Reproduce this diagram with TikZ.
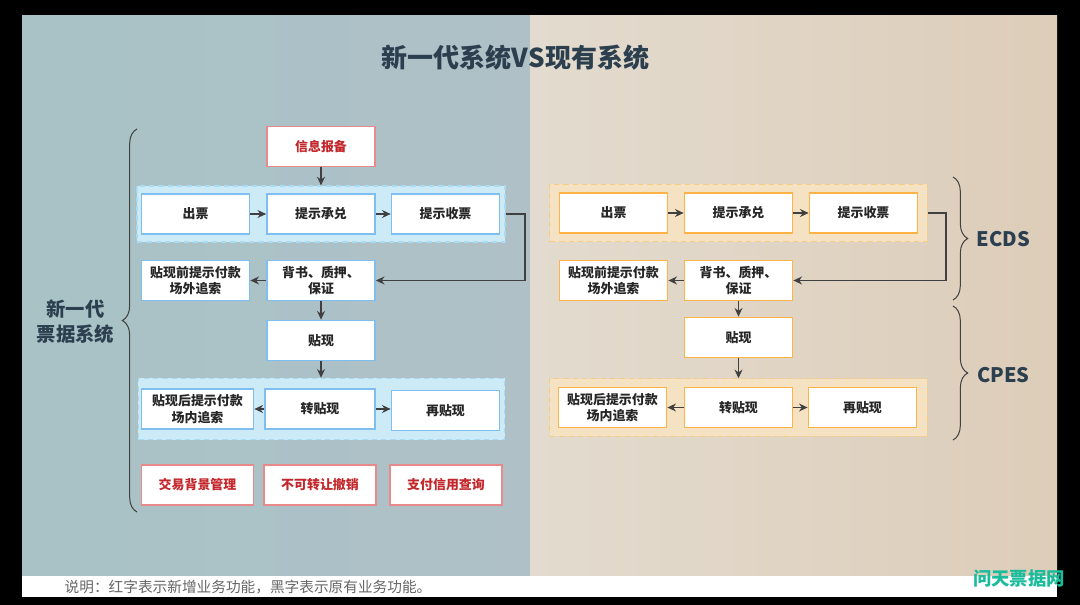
\documentclass[tikz,border=0pt]{standalone}
\usepackage{fontspec}
\setmainfont{Noto Sans CJK SC}
\usetikzlibrary{arrows.meta, decorations.pathreplacing}
\definecolor{titleink}{HTML}{2B3F4E}
\definecolor{boxink}{HTML}{262626}
\definecolor{newred}{HTML}{C3272B}
\definecolor{lineink}{HTML}{404040}
\definecolor{panelLa}{HTML}{A8C2C6}
\definecolor{panelLb}{HTML}{AFC1C7}
\definecolor{panelRa}{HTML}{E3DBCF}
\definecolor{panelRb}{HTML}{DDCDB9}
\definecolor{blueline}{HTML}{7FBEF0}
\definecolor{orangeline}{HTML}{FFB347}
\definecolor{redline}{HTML}{E88A8A}
\definecolor{bluefill}{HTML}{CDEBF7}
\definecolor{bluedash}{HTML}{A8DCF5}
\definecolor{orangefill}{HTML}{F5E2C3}
\definecolor{orangedash}{HTML}{F9CC85}
\definecolor{markink}{HTML}{1ABC9C}
\begin{document}
\begin{tikzpicture}[
  x=0.75pt, y=-0.75pt,
  bluebox/.style={rectangle, draw=blueline, fill=white, line width=1.3pt, align=center,
                  inner sep=0pt, minimum width=81pt, minimum height=30pt, text=boxink,
                  font=\fontsize{9.7pt}{12.4pt}\selectfont\bfseries},
  orangebox/.style={bluebox, draw=orangeline},
  redbox/.style={bluebox, draw=redline, text=newred, minimum width=84pt},
  solo/.style={text height=8pt, text depth=1pt},
  bluegroup/.style={rectangle, draw=bluedash, fill=bluefill, dash pattern=on 4pt off 3pt, line width=0.9pt,
                    inner sep=0pt},
  orangegroup/.style={bluegroup, draw=orangedash, fill=orangefill},
  head/.style={text=titleink, font=\fontsize{15pt}{19pt}\selectfont\bfseries, align=center},
  arr/.style={-{Stealth[length=6.5pt, width=6pt]}, lineink, line width=0.85pt},
  curly/.style={decorate, decoration={brace, amplitude=11pt}, lineink, line width=0.75pt}]

  \useasboundingbox[fill=black] (0, 0) rectangle (1080, 605);
  \shade[left color=panelLa, right color=panelLb] (22, 16) rectangle (530, 576);
  \shade[left color=panelRa, right color=panelRb] (530, 16) rectangle (1057, 576);
  \fill[white] (22, 576) rectangle (1057, 597);

  \node[text=titleink, font=\fontsize{19.5pt}{24pt}\selectfont\bfseries] at (515.5, 58) (title)
    {新一代系统VS现有系统};
  \node[head, font=\fontsize{14.5pt}{18.7pt}\selectfont\bfseries] at (75.5, 322) (newsys) {新一代\\票据系统};
  \node[head] at (1003.5, 239) (ecds) {ECDS};
  \node[head] at (1003.5, 375) (cpes) {CPES};
  \node[anchor=west, text=gray!80!black, font=\fontsize{11pt}{13pt}\selectfont] at (60, 587) (note)
    {说明：红字表示新增业务功能，黑字表示原有业务功能。};
  \node[text=markink, font=\fontsize{13.8pt}{16pt}\selectfont\bfseries] at (1019, 579) (mark)
    {问天票据网};

  \node[bluegroup, minimum width=276pt, minimum height=42pt] at (321, 214) (groupA) {};
  \node[bluegroup, minimum width=275pt, minimum height=46pt] at (321.5, 409) (groupB) {};
  \node[orangegroup, minimum width=283pt, minimum height=43pt] at (738.5, 213) (groupC) {};
  \node[orangegroup, minimum width=283pt, minimum height=43pt] at (738.5, 407.5) (groupD) {};

  \node[redbox, solo, minimum width=81pt] at (321, 146.5) (report) {信息报备};
  \node[bluebox, solo] at (195.5, 214) (issueA) {出票};
  \node[bluebox, solo] at (321, 214) (acceptA) {提示承兑};
  \node[bluebox, solo] at (445.5, 214) (receiveA) {提示收票};
  \node[bluebox] at (195.5, 280.5) (recourseA) {贴现前提示付款\\场外追索};
  \node[bluebox] at (321, 280.5) (endorseA) {背书、质押、\\保证};
  \node[bluebox, solo] at (321, 340.5) (discountA) {贴现};
  \node[bluebox, minimum width=84pt] at (197.5, 409) (afterA) {贴现后提示付款\\场内追索};
  \node[bluebox, solo, minimum width=82pt] at (320, 409) (transferA) {转贴现};
  \node[bluebox, solo] at (445.5, 410.5) (againA) {再贴现};
  \node[redbox, solo] at (197.5, 485) (tradeA) {交易背景管理};
  \node[redbox, solo] at (320, 485) (cancelA) {不可转让撤销};
  \node[redbox, solo] at (446, 485) (creditA) {支付信用查询};

  \node[orangebox, solo] at (613.5, 213) (issueB) {出票};
  \node[orangebox, solo] at (738.5, 213) (acceptB) {提示承兑};
  \node[orangebox, solo] at (863.5, 213) (receiveB) {提示收票};
  \node[orangebox] at (613.5, 280.5) (recourseB) {贴现前提示付款\\场外追索};
  \node[orangebox] at (738.5, 280.5) (endorseB) {背书、质押、\\保证};
  \node[orangebox, solo] at (738.5, 337.5) (discountB) {贴现};
  \node[orangebox] at (612.5, 407.5) (afterB) {贴现后提示付款\\场内追索};
  \node[orangebox, solo] at (738.5, 407.5) (transferB) {转贴现};
  \node[orangebox, solo] at (862.5, 407.5) (againB) {再贴现};

  \coordinate (turnA) at (525, 280.5);
  \coordinate (turnB) at (946, 280.5);
  \coordinate (braceAt) at (137, 129);
  \coordinate (braceAb) at (137, 512);
  \coordinate (braceBt) at (953, 177);
  \coordinate (braceBb) at (953, 300);
  \coordinate (braceCt) at (953, 306);
  \coordinate (braceCb) at (953, 440);

  \draw[curly] (braceAb) -- (braceAt);
  \draw[curly] (braceBt) -- (braceBb);
  \draw[curly] (braceCt) -- (braceCb);

  \draw[arr] (report.south)    -- (groupA.north);
  \draw[arr] (issueA.east)     -- (acceptA.west);
  \draw[arr] (acceptA.east)    -- (receiveA.west);
  \draw[arr] (groupA.east |- receiveA) -| (turnA) -- (endorseA.east);
  \draw[arr] (endorseA.west)   -- (recourseA.east);
  \draw[arr] (endorseA.south)  -- (discountA.north);
  \draw[arr] (discountA.south) -- (groupB.north -| discountA);
  \draw[arr] (transferA.west)  -- (afterA.east);
  \draw[arr] (transferA.east)  -- (againA.west |- transferA);

  \draw[arr] (issueB.east)     -- (acceptB.west);
  \draw[arr] (acceptB.east)    -- (receiveB.west);
  \draw[arr] (groupC.east |- receiveB) -| (turnB) -- (endorseB.east);
  \draw[arr] (endorseB.west)   -- (recourseB.east);
  \draw[arr] (endorseB.south)  -- (discountB.north);
  \draw[arr] (discountB.south) -- (groupD.north);
  \draw[arr] (transferB.west)  -- (afterB.east);
  \draw[arr] (transferB.east)  -- (againB.west);

\end{tikzpicture}
\end{document}
